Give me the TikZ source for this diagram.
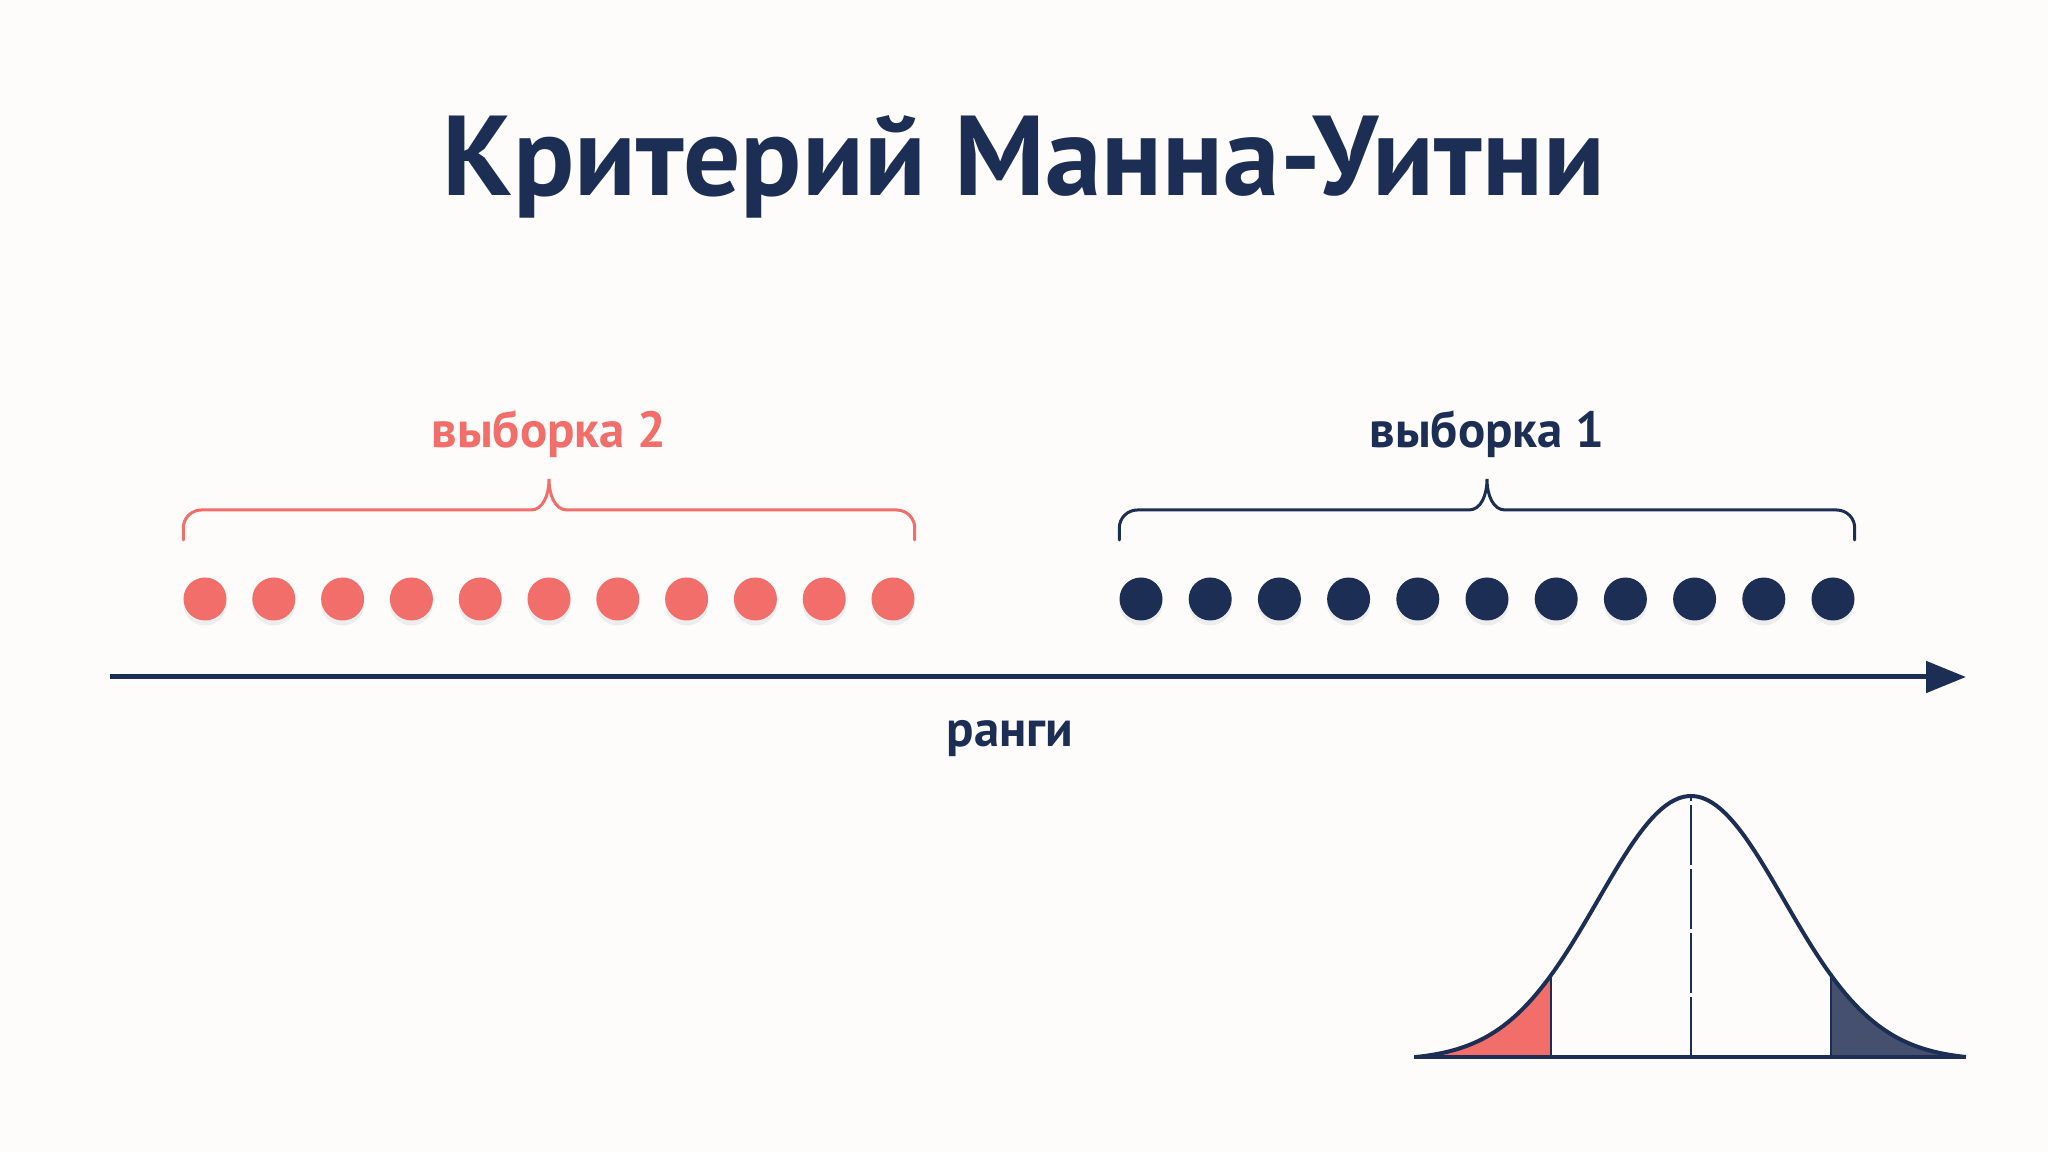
\documentclass[tikz,border=0pt]{standalone}
\usepackage{fontspec}
\setmainfont{PT Sans}
\usepackage{tikz}
\usetikzlibrary{calc,arrows.meta,positioning}
\definecolor{navy}{HTML}{1D2E54}
\definecolor{mannred}{HTML}{F26E6A}
\definecolor{tailnavy}{HTML}{44506E}
\definecolor{paper}{HTML}{FDFCFA}
\tikzstyle{slide}=[
  x=1bp,y=1bp,>={Triangle[length=40bp,width=31bp]}
]
\tikzstyle{reddot}=[
  circle,fill=mannred,inner sep=0pt,minimum size=43bp
]
\tikzstyle{navydot}=[
  circle,fill=navy,inner sep=0pt,minimum size=43bp
]
\tikzstyle{dotshadow}=[
  fill=black!7
]
\tikzstyle{redbrace}=[
  draw=mannred,line width=3bp,line cap=round
]
\tikzstyle{navybrace}=[
  draw=navy,line width=3bp,line cap=round
]
\tikzstyle{axis}=[
  navy,line width=5bp,->
]
\tikzstyle{bell}=[
  navy,line width=4bp,line join=round
]
\tikzstyle{cutline}=[
  navy,line width=2bp
]
\tikzstyle{title}=[
  navy,anchor=base,font=\fontsize{114}{120}\selectfont\bfseries
]
\tikzstyle{samplelabel}=[
  anchor=base,font=\fontsize{51}{56}\selectfont\bfseries
]
\newcommand{\bellat}[1]{95+264.3*(exp(-0.5*(#1/93)*(#1/93))-0.0126)}

\begin{document}
\begin{tikzpicture}[slide]
  \fill[paper] (0,0) rectangle (2048,1152);
  \useasboundingbox (0,0) rectangle (2048,1152);

  \node (title) [title] at (1024,956) {Критерий Манна-Уитни};

  % samples
  \foreach \i in {1,...,11} {
    \fill[dotshadow] ({205+68.8*(\i-1)},548) circle (21.5);
    \fill[dotshadow] ({1141+69.2*(\i-1)},548) circle (21.5);
    \node (r\i) [reddot] at ({205+68.8*(\i-1)},553) {};
    \node (n\i) [navydot] at ({1141+69.2*(\i-1)},553) {};
  }

  % braces
  \coordinate (b2l) at ($(r1.west)+(0,59)$);
  \coordinate (b2r) at ($(r11.east)+(0,59)$);
  \coordinate (b2t) at ($(b2l)!0.5!(b2r)+(0,61)$);
  \draw[redbrace] (b2l) -- ++(0,12) arc[start angle=180,end angle=90,radius=18]
    -- ($(b2t)+(-18,-31)$) .. controls +(12,0) and +(0,-16) .. (b2t)
    .. controls +(0,-16) and +(-12,0) .. ($(b2t)+(18,-31)$)
    -- ($(b2r)+(-18,30)$) arc[start angle=90,end angle=0,radius=18] -- (b2r);
  \coordinate (b1l) at ($(n1.west)+(0,59)$);
  \coordinate (b1r) at ($(n11.east)+(0,59)$);
  \coordinate (b1t) at ($(b1l)!0.5!(b1r)+(0,61)$);
  \draw[navybrace] (b1l) -- ++(0,12) arc[start angle=180,end angle=90,radius=18]
    -- ($(b1t)+(-18,-31)$) .. controls +(12,0) and +(0,-16) .. (b1t)
    .. controls +(0,-16) and +(-12,0) .. ($(b1t)+(18,-31)$)
    -- ($(b1r)+(-18,30)$) arc[start angle=90,end angle=0,radius=18] -- (b1r);

  \node (s2) [samplelabel,mannred] at ($(b2t)+(0,31)$) {выборка 2};
  \node (s1) [samplelabel,navy] at ($(b1t)+(0,31)$) {выборка 1};

  % axis
  \coordinate (ax0) at (110,475);
  \coordinate (ax1) at (1966,475);
  \draw[axis] (ax0) -- (ax1);
  \node (ranks) [samplelabel,navy] at (1010,405) {ранги};

  % bell curve
  \fill[mannred] (1416,95) -- plot[domain=-275:-140,samples=40] ({1691+\x},{\bellat{\x}}) -- (1551,95) -- cycle;
  \fill[tailnavy] (1831,95) -- plot[domain=140:275,samples=40] ({1691+\x},{\bellat{\x}}) -- (1966,95) -- cycle;
  \draw[cutline] (1551,95) -- (1551,{\bellat{-140}});
  \draw[cutline] (1831,95) -- (1831,{\bellat{140}});
  \draw[cutline,dash pattern=on 60bp off 4bp] (1691,95) -- (1691,{\bellat{0}});
  \draw[bell] plot[domain=-275:275,samples=120] ({1691+\x},{\bellat{\x}});
  \draw[bell] (1414,95) -- (1966,95);
\end{tikzpicture}
\end{document}
